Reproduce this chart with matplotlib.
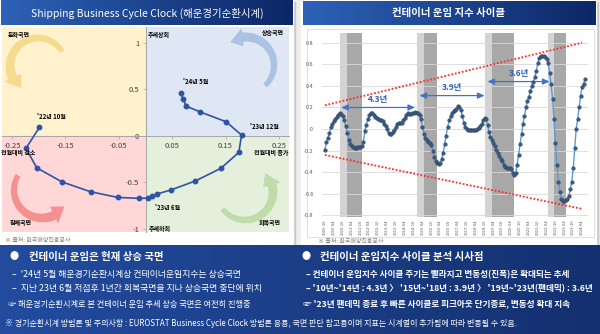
import matplotlib.pyplot as plt
import numpy as np
import pandas as pd
from matplotlib.patches import Rectangle, Polygon
from matplotlib.colors import LinearSegmentedColormap

plt.rcParams['font.family'] = ['Noto Sans CJK KR', 'DejaVu Sans']
plt.rcParams['axes.unicode_minus'] = False

# 해운경기순환시계: x = 전월대비 변화, y = 추세 대비 수준 ('22.10 ~ '24.5)
clock_months = pd.period_range('2022-10', '2024-05', freq='M').strftime('%Y-%m')
clock_x = [-0.199, -0.224, -0.204, -0.157, -0.103, -0.052, -0.012, 0.005, 0.013, 0.021,
           0.047, 0.093, 0.141, 0.175, 0.180, 0.151, 0.102, 0.076, 0.071, 0.066]
clock_y = [0.090, -0.135, -0.344, -0.495, -0.602, -0.663, -0.673, -0.670, -0.652, -0.627,
           -0.584, -0.487, -0.351, -0.179, 0.008, 0.151, 0.258, 0.319, 0.395, 0.462]
clock_marks = {"2022-10": "'22년 10월", "2023-06": "'23년 6월",
               "2023-12": "'23년 12월", "2024-05": "'24년 5월"}

# 컨테이너 운임 지수 사이클 (월별)
months = list(pd.period_range('2009-10', periods=177, freq='M').strftime('%Y-%m'))
cycle = [
    -0.19, -0.12, -0.08, -0.04, 0.02, 0.05, 0.07, 0.09, 0.11, 0.13,
    0.15, 0.14, 0.12, 0.08, 0.03, -0.04, -0.10, -0.14, -0.16, -0.17,
    -0.18, -0.18, -0.17, -0.17, -0.17, -0.16, -0.12, -0.02, 0.04, 0.09,
    0.13, 0.15, 0.15, 0.13, 0.11, 0.10, 0.09, 0.08, 0.08, 0.07,
    0.05, 0.03, 0.00, -0.04, -0.05, -0.05, -0.03, -0.01, 0.02, 0.05,
    0.06, 0.06, 0.06, 0.08, 0.10, 0.13, 0.15, 0.14, 0.14, 0.15,
    0.15, 0.16, 0.15, 0.15, 0.13, 0.09, 0.02, -0.05, -0.08, -0.10,
    -0.12, -0.13, -0.15, -0.20, -0.26, -0.30, -0.31, -0.32, -0.31, -0.28,
    -0.22, -0.14, -0.06, 0.02, 0.08, 0.12, 0.15, 0.17, 0.18, 0.19,
    0.21, 0.20, 0.18, 0.12, 0.06, 0.02, 0.00, -0.01, -0.01, -0.01,
    -0.01, -0.01, -0.01, 0.00, 0.01, 0.03, 0.05, 0.08, 0.10, 0.09,
    0.04, -0.03, -0.07, -0.10, -0.13, -0.16, -0.19, -0.22, -0.25, -0.28,
    -0.30, -0.33, -0.35, -0.36, -0.36, -0.36, -0.37, -0.41, -0.43, -0.41,
    -0.33, -0.24, -0.14, -0.05, 0.05, 0.12, 0.20, 0.26, 0.30, 0.35,
    0.40, 0.44, 0.48, 0.54, 0.61, 0.66, 0.68, 0.68, 0.68, 0.67,
    0.65, 0.61, 0.52, 0.42, 0.28, 0.09, -0.13, -0.33, -0.49, -0.58,
    -0.65, -0.67, -0.67, -0.66, -0.65, -0.62, -0.56, -0.49, -0.36, -0.18,
    0.00, 0.09, 0.20, 0.31, 0.39, 0.42, 0.46,
]

# 하락 구간 음영 (연한 음영 = 피크 직후, 진한 음영 = 저점까지)
band_light = [('2010-08', '2011-01'), ('2014-12', '2015-05'),
              ('2018-10', '2019-03'), ('2022-05', '2022-09')]
band_dark = [('2011-01', '2011-11'), ('2015-05', '2016-02'),
             ('2019-03', '2020-06'), ('2022-09', '2023-05')]

# 사이클 주기
cycle_spans = [('2010-09', '2014-11', 0.20, '4.3년'),
               ('2015-02', '2018-10', 0.31, '3.9년'),
               ('2018-12', '2022-06', 0.44, '3.6년')]

# 변동성 확대 추세선 (시작월, 종료월)
trend_months = ['2009-10', '2024-04']
trend_upper = [0.22, 0.80]
trend_lower = [-0.24, -0.74]

fig = plt.figure(figsize=(6, 3.34), dpi=100)

# 배경용 픽셀 좌표 축
bg = fig.add_axes([0, 0, 1, 1])
bg.axis('off')


def hgrad(c0, c1, x0, x1, y0, y1):
    cmap = LinearSegmentedColormap.from_list('g', [c0, c1])
    bg.imshow(np.linspace(0, 1, 256)[None, :], cmap=cmap, aspect='auto',
              extent=(x0, x1, y1, y0), zorder=1)


bg.add_patch(Rectangle((0, 0), 600, 334, color='#eeeeee', zorder=0))
bg.add_patch(Rectangle((2, 2), 293, 245, color='#c8c8c8', zorder=0.5))
bg.add_patch(Rectangle((0, 0), 293, 245, color='white', zorder=0.6))
bg.add_patch(Rectangle((303, 2), 295, 245, color='#c8c8c8', zorder=0.5))
bg.add_patch(Rectangle((301, 0), 295, 245, color='white', zorder=0.6))
hgrad('#2d62b6', '#0c2766', 1, 293, 0, 25)
hgrad('#2d62b6', '#0c2766', 303, 596, 1, 25)
hgrad('#234c9f', '#14306f', 0, 600, 245, 334)
bg.add_patch(Rectangle((307, 29), 287, 208, fill=False, ec='#d9d9d9', lw=0.6, zorder=2))

bg.text(147, 13, 'Shipping Business Cycle Clock (해운경기순환시계)', color='white',
        fontsize=7.5, ha='center', va='center', zorder=3)
bg.text(449, 13, '컨테이너 운임 지수 사이클', color='white', fontsize=7.5,
        weight='bold', ha='center', va='center', zorder=3)
bg.text(5, 240, '※ 출처: 한국해양진흥공사', color='#7f7f7f', fontsize=4.3,
        va='center', zorder=3)
bg.text(318, 241, '※ 출처: 한국해양진흥공사', color='#7f7f7f', fontsize=4.3,
        va='center', zorder=3)

# 하단 요약
left_lines = ["–  '24년 5월 해운경기순환시계상 컨테이너운임지수는 상승국면",
              "–  지난 23년 6월 저점후 1년간 회복국면을 지나 상승국면 중단에 위치",
              "☞ 해운경기순환시계로 본 컨테이너 운임 추세 상승 국면은 여전히 진행중"]
right_lines = ["– 컨테이너 운임지수 사이클 주기는 빨라지고 변동성(진폭)은 확대되는 추세",
               "– '10년~'14년 : 4.3년 〉 '15년~'18년 : 3.9년 〉 '19년~'23년(팬데믹) : 3.6년",
               "☞ '23년 팬데믹 종료 후 빠른 사이클로 피크아웃 단기종료, 변동성 확대 지속"]
bg.text(14, 257, '●', color='white', fontsize=6.5, ha='center', va='center', zorder=3)
bg.text(29, 257, '컨테이너 운임은 현재 상승 국면', color='white', fontsize=7.5,
        weight='bold', va='center', zorder=3)
bg.text(306, 257, '●', color='white', fontsize=6.5, ha='center', va='center', zorder=3)
bg.text(320, 257, '컨테이너 운임지수 사이클 분석 시사점', color='white', fontsize=7.5,
        weight='bold', va='center', zorder=3)
for i, (lt, rt) in enumerate(zip(left_lines, right_lines)):
    y = [275, 289, 305][i]
    bg.text(12 if i < 2 else 8, y, lt, color='white', fontsize=6.4 if i < 2 else 5.9,
            va='center', zorder=3)
    bg.text(306 if i < 2 else 303, y, rt, color='white', fontsize=6.2,
            weight='bold', va='center', zorder=3)
bg.text(5, 323, '※ 경기순환시계 방법론 및 주의사항 : EUROSTAT Business Cycle Clock 방법론 응용, '
        '국면 판단 참고용이며 지표는 시계열이 추가됨에 따라 변동될 수 있음.',
        color='white', fontsize=5.75, va='center', zorder=3)

bg.set_xlim(0, 600)
bg.set_ylim(334, 0)

# ---- 해운경기순환시계 ----
ax1 = fig.add_axes([2 / 600, 1 - 232 / 334, 287 / 600, 205 / 334])
xl, xr, yb, yt = -0.269, 0.269, -1.035, 1.17
ax1.set_xlim(xl, xr)
ax1.set_ylim(yb, yt)
ax1.add_patch(Rectangle((xl, 0), -xl, yt, color='#fff2cc', zorder=0))
ax1.add_patch(Rectangle((0, 0), xr, yt, color='#dfe6f4', zorder=0))
ax1.add_patch(Rectangle((xl, yb), -xl, -yb, color='#ffd7d7', zorder=0))
ax1.add_patch(Rectangle((0, yb), xr, -yb, color='#e4f0dc', zorder=0))


def curved_arrow(cx, cy, r, a0, a1, w, color, alpha):
    # 픽셀 좌표에서 원호를 따라 굽은 화살표
    step = np.sign(a1 - a0)
    ab = a1 - step * 30
    t = np.radians(np.linspace(a0, ab, 50))
    ww = np.linspace(0.6 * w, w, 50) / 2
    outer = np.c_[cx + (r + ww) * np.cos(t), cy + (r + ww) * np.sin(t)]
    inner = np.c_[cx + (r - ww) * np.cos(t), cy + (r - ww) * np.sin(t)][::-1]
    tb, tt = np.radians(ab), np.radians(a1)
    head = [[cx + (r + w) * np.cos(tb), cy + (r + w) * np.sin(tb)],
            [cx + r * np.cos(tt), cy + r * np.sin(tt)],
            [cx + (r - w) * np.cos(tb), cy + (r - w) * np.sin(tb)]]
    pts = np.vstack([outer, head, inner])
    ax1.add_patch(Polygon(pts, closed=True, fc=color, ec='white', lw=0.4, alpha=alpha,
                          transform=bg.transData, clip_on=False, zorder=1))


curved_arrow(38, 66, 28, -30, -234, 10, '#f0c95e', 0.55)
curved_arrow(246, 65, 28, 48, -126, 10, '#8fb0da', 0.65)
curved_arrow(42, 190, 28, 212, 35, 10, '#ef6262', 0.6)
curved_arrow(245, 192, 28, 144, -44, 10, '#a7cf8a', 0.6)

for s in ['top', 'right']:
    ax1.spines[s].set_visible(False)
for s in ['left', 'bottom']:
    ax1.spines[s].set_position(('data', 0))
    ax1.spines[s].set_color('#a6a6a6')
    ax1.spines[s].set_linewidth(0.7)
xt = [-0.25, -0.15, -0.05, 0.05, 0.15, 0.25]
ax1.set_xticks(xt)
ax1.set_xticklabels([f'{v:g}' for v in xt])
ax1.set_yticks([-1, -0.5, 0, 0.5, 1])
ax1.set_yticklabels(['-1', '-0.5', '0', '0.5', '1'])
ax1.tick_params(labelsize=5.5, length=2, width=0.5, color='#a6a6a6', pad=2.5,
                labelcolor='#404040')
ax1.plot(clock_x, clock_y, '-o', color='#2f54a5', lw=1.2, ms=3.2, zorder=5)

for m, lab in clock_marks.items():
    i = list(clock_months).index(m)
    off = {'2022-10': (-2, 8), '2023-06': (2, -8), '2023-12': (6, 6), '2024-05': (2, 8)}[m]
    ax1.annotate(lab, (clock_x[i], clock_y[i]), xytext=off, textcoords='offset points',
                 fontsize=4.3, weight='bold', ha='left', va='center', zorder=6)

quad_text = [(8, 34, '둔화국면'), (148, 34, '추세상회'), (262, 32, '상승국면'),
             (1, 153, '전월대비 감소'), (254, 153, '전월대비 증가'),
             (10, 223, '침체국면'), (149, 229, '추세하회'), (259, 223, '회복국면')]
for x, y, s in quad_text:
    ax1.text(x, y, s, fontsize=4.3, weight='bold', va='center', transform=bg.transData,
             zorder=6, clip_on=False)

# ---- 컨테이너 운임 지수 사이클 ----
ax2 = fig.add_axes([322 / 600, 1 - 217 / 334, 266 / 600, 184 / 334])
idx = np.arange(len(cycle))
pos = {m: i for i, m in enumerate(months)}
ax2.set_xlim(-2, 178)
ax2.set_ylim(-0.815, 0.89)
for a, b in band_light:
    ax2.axvspan(pos[a], pos[b], color='#d3d3d3', lw=0, zorder=0)
for a, b in band_dark:
    ax2.axvspan(pos[a], pos[b], color='#a8a8a8', lw=0, zorder=0)
ax2.set_axisbelow(True)
ax2.grid(axis='y', color='#d9d9d9', lw=0.6)
for s in ax2.spines.values():
    s.set_visible(False)
yt2 = np.round(np.arange(-0.8, 0.81, 0.2), 1)
ax2.set_yticks(yt2)
ax2.set_yticklabels([f'{v:g}' for v in yt2])
ax2.set_xticks(idx[::6])
ax2.set_xticklabels(months[::6], rotation=90)
ax2.tick_params(axis='y', labelsize=4, length=0, labelcolor='#595959', pad=6)
ax2.tick_params(axis='x', labelsize=3, length=0, labelcolor='#595959', pad=2)

tx = [pos[m] for m in trend_months]
ax2.plot(tx, trend_upper, ls=(0, (1, 1)), color='#ff2a2a', lw=1.3, zorder=2)
ax2.plot(tx, trend_lower, ls=(0, (1, 1)), color='#ff2a2a', lw=1.3, zorder=2)

ax2.plot(idx, cycle, color='#5b9bd5', lw=1.0, marker='o', ms=2.6, mfc='#3a5a80',
         mec='#2c4565', mew=0.3, zorder=4)

for a, b, y, lab in cycle_spans:
    ax2.annotate('', xy=(pos[b], y), xytext=(pos[a], y),
                 arrowprops=dict(arrowstyle='<|-|>,head_length=0.4,head_width=0.18',
                                 color='#4472c4', lw=0.9, shrinkA=0, shrinkB=0), zorder=3)
    ax2.text((pos[a] + pos[b]) / 2, y + 0.075, lab, color='#2f5fb3', fontsize=6,
             weight='bold', ha='center', va='center', zorder=5)

fig.savefig('out.png', dpi=100)
